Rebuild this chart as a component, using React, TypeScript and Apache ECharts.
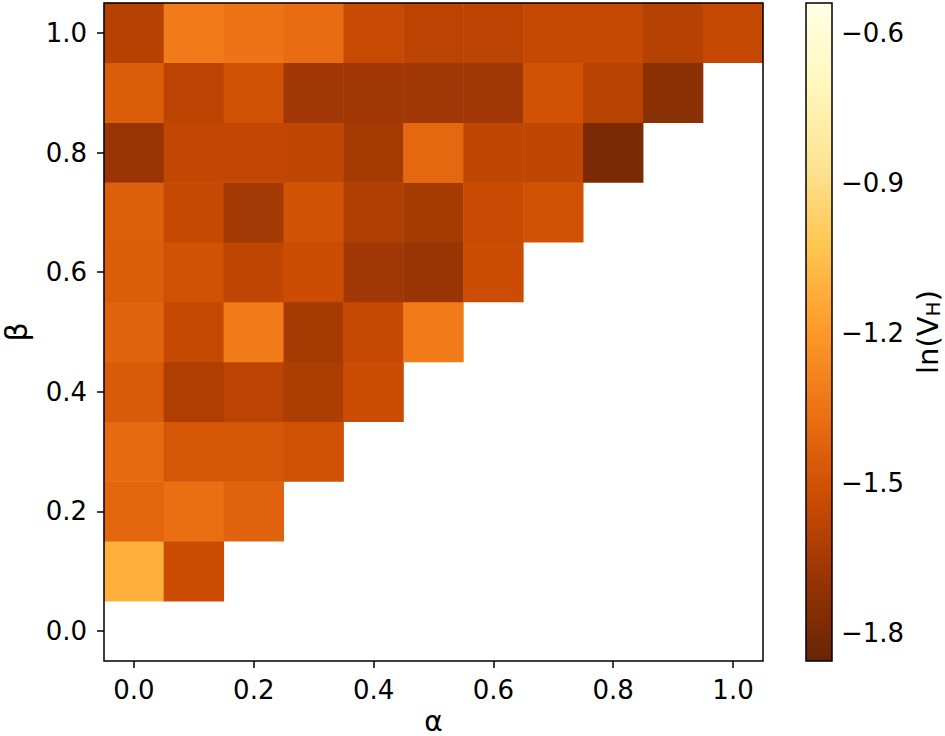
import React, { useEffect, useRef } from 'react';
import * as echarts from 'echarts';

// ---- data ----
const alphaLabels = ['0.0', '0.1', '0.2', '0.3', '0.4', '0.5', '0.6', '0.7', '0.8', '0.9', '1.0'];
const betaLabels = ['0.0', '0.1', '0.2', '0.3', '0.4', '0.5', '0.6', '0.7', '0.8', '0.9', '1.0'];

// ln(V_H) per row of beta; index within row = alpha index (alpha <= beta)
const rowBeta00: number[] = [];
const rowBeta01 = [-1.11, -1.53];
const rowBeta02 = [-1.41, -1.37, -1.42];
const rowBeta03 = [-1.39, -1.48, -1.48, -1.5];
const rowBeta04 = [-1.46, -1.62, -1.58, -1.63, -1.53];
const rowBeta05 = [-1.42, -1.55, -1.32, -1.65, -1.55, -1.32];
const rowBeta06 = [-1.45, -1.5, -1.57, -1.53, -1.67, -1.69, -1.53];
const rowBeta07 = [-1.44, -1.55, -1.66, -1.5, -1.62, -1.65, -1.54, -1.5];
const rowBeta08 = [-1.69, -1.56, -1.56, -1.57, -1.65, -1.4, -1.57, -1.57, -1.79];
const rowBeta09 = [-1.45, -1.58, -1.5, -1.67, -1.67, -1.67, -1.67, -1.5, -1.59, -1.74];
const rowBeta10 = [-1.6, -1.32, -1.35, -1.38, -1.54, -1.58, -1.58, -1.55, -1.55, -1.6, -1.55];

const rows = [rowBeta00, rowBeta01, rowBeta02, rowBeta03, rowBeta04, rowBeta05, rowBeta06, rowBeta07, rowBeta08, rowBeta09, rowBeta10];

const colorbarMin = -1.856;
const colorbarMax = -0.54;
const colorbarTicks = [-1.8, -1.5, -1.2, -0.9, -0.6];
// YlOrBr reversed
const cmap = ['#662506', '#993404', '#cc4c02', '#ec7014', '#fe9929', '#fec44f', '#fee391', '#fff7bc', '#ffffe5'];

const FONT = 'DejaVu Sans';

export default function App() {
  const ref = useRef<HTMLDivElement>(null);
  useEffect(() => {
    if (!ref.current) return;
    const chart = echarts.init(ref.current, undefined, { renderer: 'svg' });

    const heatData: number[][] = [];
    rows.forEach((row, b) => {
      row.forEach((v, a) => heatData.push([a, b, v]));
    });

    const fmt = (v: number) => (v < 0 ? '\u2212' : '') + Math.abs(v).toFixed(1);
    const gradStops = cmap.map((c, i) => ({ offset: i / (cmap.length - 1), color: c }));

    const catAxisCommon = {
      axisLine: { show: false },
      axisTick: { show: true, alignWithLabel: true, interval: 1, length: 7, lineStyle: { color: '#000', width: 1.5 } },
      splitLine: { show: false },
      z: 10,
    };

    chart.setOption({
      animation: false,
      backgroundColor: '#fff',
      textStyle: { fontFamily: FONT },
      grid: [
        { left: 104, top: 3, width: 659, height: 658, show: true, borderColor: '#000', borderWidth: 1.5, backgroundColor: 'transparent', z: 10, containLabel: false, outerBoundsMode: 'none' },
        { left: 806, top: 3, width: 26, height: 658, containLabel: false, outerBoundsMode: 'none' },
      ],
      xAxis: [
        {
          ...catAxisCommon,
          type: 'category',
          gridIndex: 0,
          data: alphaLabels,
          axisLabel: { interval: 1, fontSize: 26, color: '#000', margin: 16, fontFamily: FONT },
          name: 'α',
          nameLocation: 'middle',
          nameGap: 46,
          nameMoveOverlap: false,
          nameTextStyle: { fontSize: 28, lineHeight: 28, color: '#000', fontFamily: FONT },
        },
        { type: 'value', gridIndex: 1, min: 0, max: 1, show: false },
      ],
      yAxis: [
        {
          ...catAxisCommon,
          type: 'category',
          gridIndex: 0,
          data: betaLabels,
          axisLabel: { interval: 1, fontSize: 26, color: '#000', margin: 17, fontFamily: FONT },
          name: 'β',
          nameLocation: 'middle',
          nameGap: 73,
          nameTextStyle: { fontSize: 30, color: '#000', fontFamily: FONT },
        },
        {
          type: 'value',
          gridIndex: 1,
          min: colorbarMin,
          max: colorbarMax,
          position: 'right',
          axisLine: { show: false },
          axisTick: { show: false },
          splitLine: { show: false },
          axisLabel: { customValues: colorbarTicks, formatter: fmt, fontSize: 26, color: '#000', margin: 9, fontFamily: FONT },
          name: 'ln(V{sub|H})',
          nameLocation: 'middle',
          nameRotate: 90,
          nameGap: 80,
          nameTextStyle: {
            fontSize: 29,
            color: '#000',
            fontFamily: FONT,
            rich: { sub: { fontSize: 20, color: '#000', fontFamily: FONT, verticalAlign: 'bottom', padding: [11, 0, 0, 0] } },
          },
        },
      ],
      visualMap: {
        type: 'continuous',
        show: false,
        min: colorbarMin,
        max: colorbarMax,
        seriesIndex: 0,
        dimension: 2,
        inRange: { color: cmap },
      },
      series: [
        {
          type: 'heatmap',
          xAxisIndex: 0,
          yAxisIndex: 0,
          data: heatData,
          emphasis: { disabled: true },
          itemStyle: { borderWidth: 0 },
        },
        {
          type: 'custom',
          xAxisIndex: 1,
          yAxisIndex: 1,
          silent: true,
          data: [[0, colorbarMin, colorbarMax]],
          renderItem: (params: any, api: any) => {
            const p0 = api.coord([0, api.value(1)]);
            const p1 = api.coord([1, api.value(2)]);
            return {
              type: 'rect',
              shape: { x: p0[0], y: p1[1], width: p1[0] - p0[0], height: p0[1] - p1[1] },
              style: {
                fill: new echarts.graphic.LinearGradient(0, 1, 0, 0, gradStops),
                stroke: '#000',
                lineWidth: 1.5,
              },
            };
          },
        },
      ],
    });
    return () => chart.dispose();
  }, []);
  return <div ref={ref} style={{ position: 'absolute', left: 0, top: 0, width: 945, height: 736 }} />;
}
